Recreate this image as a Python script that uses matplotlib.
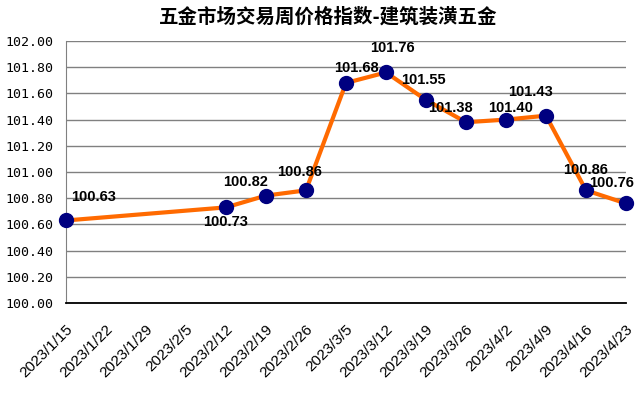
import matplotlib
matplotlib.use("Agg")
import matplotlib.pyplot as plt
import pandas as pd


LINE_COLOR = "#FF6A00"
MARKER_COLOR = "#000080"
GRID_COLOR = "#808080"

TITLE = "五金市场交易周价格指数-建筑装潢五金"
DATES = ["2023-01-15", "2023-02-12", "2023-02-19", "2023-02-26", "2023-03-05", "2023-03-12",
         "2023-03-19", "2023-03-26", "2023-04-02", "2023-04-09", "2023-04-16", "2023-04-23"]
VALUES = [100.63, 100.73, 100.82, 100.86, 101.68, 101.76,
          101.55, 101.38, 101.40, 101.43, 100.86, 100.76]
# label offsets in pixels (dx, dy)
LABEL_OFFSETS = [(28, 23), (0, -15), (-20, 14), (-6, 18), (10, 15), (6, 24),
                 (-3, 20), (-16, 14), (5, 12), (-15, 24), (0, 20), (-14, 20)]
Y_TICKS = [100.0 + 0.2 * i for i in range(11)]


def main() -> None:
    plt.rcParams["font.family"] = ["Liberation Sans", "Noto Sans CJK SC"]
    dates = pd.to_datetime(DATES)
    weekly_ticks = pd.date_range(DATES[0], DATES[-1], freq="7D")

    fig = plt.figure(figsize=(6.39, 3.94), dpi=100)
    ax = fig.add_axes([66 / 639, 1 - 303 / 394, 560 / 639, 262 / 394])

    ax.plot(dates, VALUES, color=LINE_COLOR, linewidth=3, marker="o", markersize=10,
            markerfacecolor=MARKER_COLOR, markeredgecolor=MARKER_COLOR, clip_on=False, zorder=3)

    for d, v, (dx, dy) in zip(dates, VALUES, LABEL_OFFSETS):
        ax.annotate(f"{v:.2f}", (d, v), xytext=(dx, dy), textcoords="offset pixels",
                    ha="center", va="center", fontsize=10.5, fontweight="bold", color="black")

    ax.set_xlim(dates[0], dates[-1])
    ax.set_ylim(100.0, 102.0)
    ax.set_yticks(Y_TICKS)
    ax.set_yticklabels([f"{t:.2f}" for t in Y_TICKS], family="DejaVu Sans Mono", fontsize=9.5)
    ax.set_xticks(weekly_ticks)
    ax.set_xticklabels([f"{d.year}/{d.month}/{d.day}" for d in weekly_ticks], fontsize=11)
    plt.setp(ax.get_xticklabels(), rotation=45, ha="right", va="top", rotation_mode="anchor")
    ax.tick_params(axis="x", length=0, pad=14)
    ax.tick_params(axis="y", length=0, pad=9)

    ax.grid(axis="y", color=GRID_COLOR, linewidth=1)
    ax.set_axisbelow(True)
    for side in ["top", "right"]:
        ax.spines[side].set_visible(False)
    ax.spines["left"].set_color(GRID_COLOR)
    ax.spines["bottom"].set_color("black")
    ax.spines["bottom"].set_linewidth(1.3)

    fig.text(328 / 639, 1 - 17 / 394, TITLE, ha="center", va="center", fontsize=14,
             fontweight="bold", family=["Noto Sans CJK SC", "DejaVu Sans"])

    fig.savefig("out.png", dpi=100)
    plt.close(fig)


if __name__ == "__main__":
    main()
